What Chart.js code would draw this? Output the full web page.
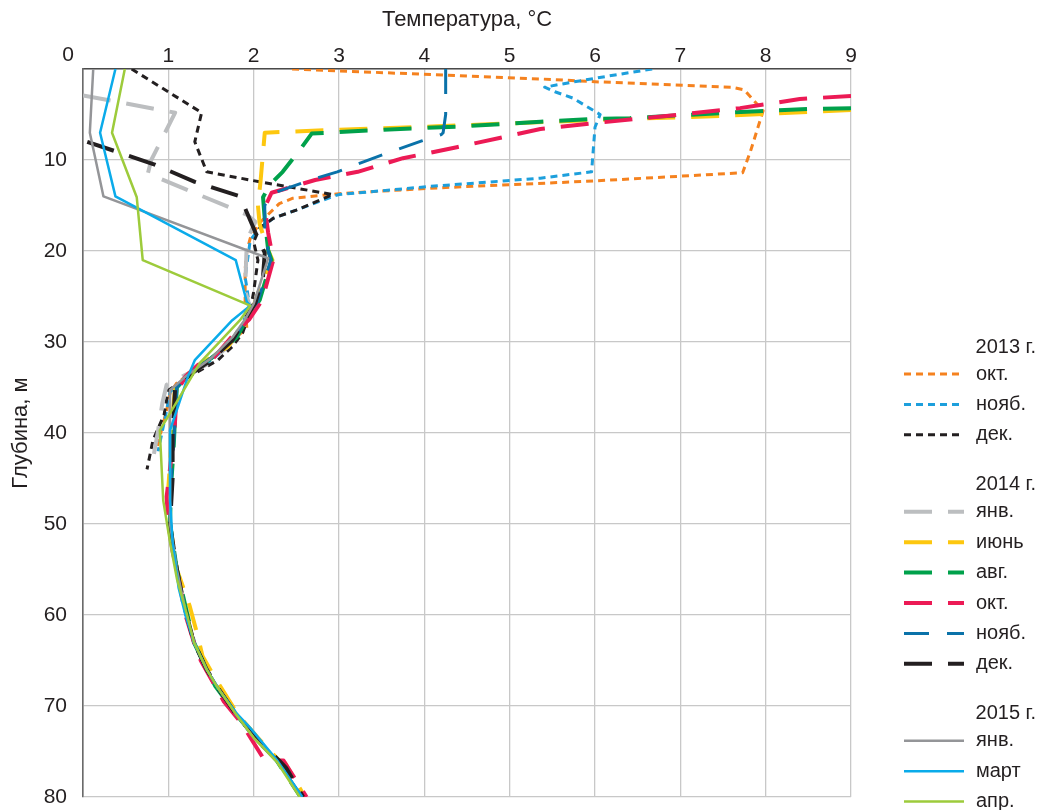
<!DOCTYPE html>
<html lang="ru">
<head>
<meta charset="utf-8">
<title>Температура по глубине</title>
<script src="https://cdn.jsdelivr.net/npm/chart.js@4.4.0/dist/chart.umd.min.js"></script>
<style>
  html, body { margin: 0; padding: 0; background: #fff; overflow: hidden; }
  #wrap { width: 1040px; height: 810px; }
</style>
</head>
<body>
<div id="wrap"><canvas id="chart" width="1040" height="810"></canvas></div>
<script>
// [температура °C, глубина м]

const oct2013 = [[2.45,0],[5.5,1.15],[6.0,1.4],[7.6,2.0],[7.75,2.3],[7.97,4.6],[7.82,9.1],[7.73,11.4],[6.0,12.3],[4.07,13.1],[3.0,13.7],[2.46,14.2],[2.3,14.8],[2.07,16.9],[1.96,18.6],[1.92,20],[1.9,22],[1.9,26],[1.92,28.5],[1.78,29.6],[1.66,30.7],[1.4,32.5],[1.1,34.5],[1.02,35.6],[0.99,37.1],[0.87,41.5]];
const nov2013 = [[6.67,0],[6.14,0.8],[5.7,1.5],[5.41,2.0],[5.53,2.5],[5.74,3.2],[6.06,5.0],[6.0,6.4],[5.96,11.3],[5.36,12.0],[4.07,12.9],[3.0,13.8],[2.93,14.0],[2.5,15.5],[2.23,16.4],[2.07,17.5],[1.96,18.8],[1.9,22.9],[1.92,24],[1.95,26],[1.85,28.5],[1.7,30.5],[1.5,32],[1.2,34],[1.02,35.5],[0.97,38],[0.88,42]];
const dec2013 = [[0.57,0],[1.39,4.8],[1.31,8.0],[1.45,11.3],[2.07,12.4],[2.93,13.8],[2.5,15.5],[2.23,16.4],[2.07,17.5],[2.0,19],[2.05,21],[2.0,24.5],[1.95,27],[1.87,29],[1.75,30.5],[1.58,32],[1.3,33.5],[1.0,35.3],[0.95,38],[0.82,40.8],[0.75,44]];

const jan2014 = [[0,2.9],[1.08,4.8],[0.8,10],[0.76,11.5],[1.92,16],[2.02,16.8],[1.92,18.8],[1.9,24.3],[1.95,26],[1.88,28.5],[1.7,30.5],[1.45,32.5],[1.2,33.6],[0.98,34.7],[0.93,36.7],[0.88,39.7],[0.8,44]];
const jun2014 = [[9,4.5],[7.5,5.15],[6.0,5.6],[4.15,6.3],[2.9,6.7],[2.13,7.0],[2.08,12.4],[2.05,15],[2.07,17],[2.15,19.5],[2.22,21],[2.1,23.5],[2.0,26],[1.85,28.5],[1.7,30.5],[1.45,32],[1.22,33.6],[1.08,35],[1.05,38],[1.03,42],[1.0,46],[1.02,50],[1.1,55],[1.25,59],[1.35,62.5],[1.4,64.5],[1.52,66.5],[1.62,68],[1.82,71],[2.05,73.5],[2.3,76],[2.37,76.3],[2.6,80]];
const aug2014 = [[9,4.3],[8.5,4.4],[7.55,4.8],[6.41,5.4],[5.94,5.5],[5.36,5.8],[4.46,6.3],[3.44,6.7],[2.68,7.1],[2.54,8.9],[2.34,11.3],[2.19,12.7],[2.11,14.1],[2.13,16.5],[2.17,19.9],[2.21,21],[2.07,25.4],[1.95,27],[1.8,29.5],[1.5,31.8],[1.25,33.5],[1.1,35],[1.08,38],[1.06,42],[1.03,46],[1.02,50],[1.1,55],[1.2,59],[1.3,63],[1.45,66],[1.55,67.8],[1.8,71],[2.02,73.5],[2.27,76],[2.55,80]];
const oct2014 = [[9,2.96],[8.4,3.3],[7.7,4.3],[7.0,5.0],[5.94,6.0],[5.36,6.6],[4.38,8.6],[3.75,9.8],[3.22,11.3],[2.72,12.2],[2.21,13.6],[2.13,15.2],[2.17,18],[2.23,21],[2.1,25.4],[1.95,27.5],[1.78,29],[1.49,32.2],[1.35,32.5],[1.2,33.8],[1.1,35.5],[1.07,40],[0.98,47],[1.0,50],[1.05,53],[1.12,56],[1.2,60],[1.3,63],[1.38,65],[1.5,67],[1.65,69.5],[1.85,71.8],[2.13,76],[2.35,76],[2.62,80]];
const nov2014 = [[4.25,0],[4.25,5.0],[4.22,7.0],[4.2,7.2],[3.97,7.9],[3.46,9.6],[2.98,11.3],[2.7,12.1],[2.21,13.7],[2.13,15],[2.13,17.7],[2.17,20],[2.2,21],[2.05,25.5],[1.93,27],[1.78,29.5],[1.5,31.8],[1.25,33.5],[1.1,35],[1.07,40],[1.03,46],[1.02,50],[1.1,55],[1.2,59.5],[1.3,63],[1.45,66],[1.58,68],[1.8,71],[2.05,74],[2.27,76],[2.57,80]];
const dec2014 = [[0.05,8.0],[0.84,10.5],[1.31,12.4],[1.84,14.0],[2.05,18.6],[2.13,20.2],[2.11,22.8],[2.02,25.7],[1.9,27.5],[1.75,29.8],[1.5,32],[1.25,33.6],[1.08,35],[1.05,40],[1.05,45],[1.02,50],[1.1,55],[1.2,59.5],[1.3,63],[1.45,66],[1.58,68],[1.8,71],[2.05,73.8],[2.3,76],[2.38,76.8],[2.58,80]];

const jan2015 = [[0.12,0],[0.08,7.0],[0.24,14.0],[2.17,20.8],[2.0,25.8],[1.9,27.5],[1.75,29.5],[1.5,31.8],[1.2,33.8],[1.02,35.3],[1.02,40],[1.02,45],[1.02,50],[1.1,55],[1.2,59.5],[1.3,63],[1.45,66],[1.58,68],[1.8,71],[2.0,73.5],[2.27,76],[2.55,80]];
const mar2015 = [[0.38,0],[0.2,7.0],[0.38,14.0],[1.79,21],[1.92,25.6],[1.96,26],[1.75,27.6],[1.31,32],[1.23,33.8],[1.02,39.7],[1.02,47.4],[1.05,52],[1.12,57],[1.2,60],[1.3,63],[1.45,66],[1.6,68.3],[1.8,70.8],[1.96,72.4],[2.27,75.9],[2.57,80]];
const apr2015 = [[0.49,0],[0.34,7.0],[0.63,14.1],[0.7,21],[1.96,26],[1.84,27.6],[1.37,32.3],[0.9,39.7],[0.94,47.4],[1.02,52],[1.1,56],[1.22,60],[1.3,63],[1.45,66],[1.58,68],[1.8,71],[2.0,73.5],[2.27,76.1],[2.54,80]];

const xTicks = [0, 1, 2, 3, 4, 5, 6, 7, 8, 9];
const yTicks = [0, 10, 20, 30, 40, 50, 60, 70, 80];

const groupTitles = ['2013 г.', '2014 г.', '2015 г.'];
const seriesNames = ['окт.', 'нояб.', 'дек.', 'янв.', 'июнь', 'авг.', 'окт.', 'нояб.', 'дек.', 'янв.', 'март', 'апр.'];
const seriesGroup = [0, 0, 0, 1, 1, 1, 1, 1, 1, 2, 2, 2];
const seriesData  = [oct2013, nov2013, dec2013, jan2014, jun2014, aug2014, oct2014, nov2014, dec2014, jan2015, mar2015, apr2015];
const seriesColor = ['#f5821f', '#1d9fdc', '#231f20', '#bcbec0', '#fdc70f', '#00a14b', '#ec1a55', '#0a72a9', '#231f20', '#949598', '#0aabea', '#9dcb3b'];

// line styles per year
const DOT   = { width: 3,   dash: [7, 5] };
const LONG  = { width: 4,   dash: [28, 16] };
const LONGN = { width: 3,   dash: [25, 18] };
const SOLID = { width: 2.5, dash: [] };
const seriesStyle = [DOT, DOT, DOT, LONG, LONG, LONG, LONG, LONGN, LONG, SOLID, SOLID, SOLID];

const FONT = "'Liberation Sans', Arial, sans-serif";
const TEXT = '#231f20';

// ── Datasets ─────────────────────────────────────────────────────────

const datasets = seriesData.map((pts, i) => ({
  label: seriesNames[i],
  data: pts.map(p => ({ x: p[0], y: p[1] })),
  borderColor: seriesColor[i],
  backgroundColor: seriesColor[i],
  borderWidth: seriesStyle[i].width,
  borderDash: seriesStyle[i].dash,
  borderCapStyle: 'butt',
  borderJoinStyle: 'round',
  showLine: true,
  pointRadius: 0,
  tension: 0,
  order: seriesData.length - i,
}));

// ── Grouped legend on the right ─────────────────────────────────────

const groupedLegend = {
  id: 'groupedLegend',
  afterDraw(chart) {
    const ctx = chart.ctx;
    const lineX0 = 904, lineX1 = 964, textX = 976, headRight = 1036;
    let y = 347;
    let prev = -1;
    ctx.save();
    ctx.font = '20px ' + FONT;
    ctx.textBaseline = 'middle';
    chart.data.datasets.forEach((ds, i) => {
      const g = seriesGroup[i];
      if (g !== prev) {
        if (prev !== -1) y += 50;
        ctx.fillStyle = TEXT;
        ctx.textAlign = 'right';
        ctx.fillText(groupTitles[g], headRight, y);
        y += 27;
        prev = g;
      } else {
        y += 30.4;
      }
      ctx.strokeStyle = ds.borderColor;
      ctx.lineWidth = ds.borderWidth;
      ctx.setLineDash(ds.borderDash);
      ctx.lineCap = 'butt';
      ctx.beginPath();
      ctx.moveTo(lineX0, y);
      ctx.lineTo(lineX1, y);
      ctx.stroke();
      ctx.setLineDash([]);
      ctx.fillStyle = TEXT;
      ctx.textAlign = 'left';
      ctx.fillText(ds.label, textX, y);
    });
    ctx.restore();
  }
};

// the "0" of the temperature axis sits left of the corner
const cornerZero = {
  id: 'cornerZero',
  afterDraw(chart) {
    const ctx = chart.ctx;
    ctx.save();
    ctx.font = '21px ' + FONT;
    ctx.fillStyle = TEXT;
    ctx.textAlign = 'center';
    ctx.textBaseline = 'middle';
    ctx.fillText(String(xTicks[0]), 68, 55);
    ctx.restore();
  }
};

// ── Chart ────────────────────────────────────────────────────────────

new Chart(document.getElementById('chart'), {
  type: 'scatter',
  data: { datasets },
  options: {
    responsive: false,
    animation: false,
    devicePixelRatio: 1,
    layout: { padding: { top: 0, left: 0, right: 189, bottom: 13 } },
    plugins: {
      legend: { display: false },
      tooltip: { enabled: false },
    },
    scales: {
      x: {
        type: 'linear',
        position: 'top',
        min: xTicks[0],
        max: xTicks[xTicks.length - 1],
        afterBuildTicks: s => { s.ticks = xTicks.map(v => ({ value: v })); },
        afterFit: s => { s.height = 69; },
        ticks: {
          padding: 0,
          color: TEXT,
          font: { family: FONT, size: 21 },
          callback: v => (v === 0 ? '' : String(v)),
        },
        grid: { color: '#c8c8c8', lineWidth: 1.3, drawTicks: false },
        border: { color: '#4a4a4a', width: 1.6 },
        title: {
          display: true,
          text: 'Температура, °C',
          color: TEXT,
          font: { family: FONT, size: 22 },
          padding: { top: 7, bottom: 0 },
        },
      },
      y: {
        type: 'linear',
        reverse: true,
        min: yTicks[0],
        max: yTicks[yTicks.length - 1],
        afterBuildTicks: s => { s.ticks = yTicks.map(v => ({ value: v })); },
        afterFit: s => { s.width = 83; s.paddingTop = 0; s.paddingBottom = 0; },
        ticks: {
          padding: 16,
          color: TEXT,
          font: { family: FONT, size: 21 },
          callback: v => (v === 0 ? '' : String(v)),
        },
        grid: { color: '#c8c8c8', lineWidth: 1.3, drawTicks: false },
        border: { color: '#6a6a6a', width: 1.6 },
        title: {
          display: true,
          text: 'Глубина, м',
          color: TEXT,
          font: { family: FONT, size: 22 },
          padding: { top: 8, bottom: 0 },
        },
      },
    },
  },
  plugins: [groupedLegend, cornerZero],
});
</script>
</body>
</html>
